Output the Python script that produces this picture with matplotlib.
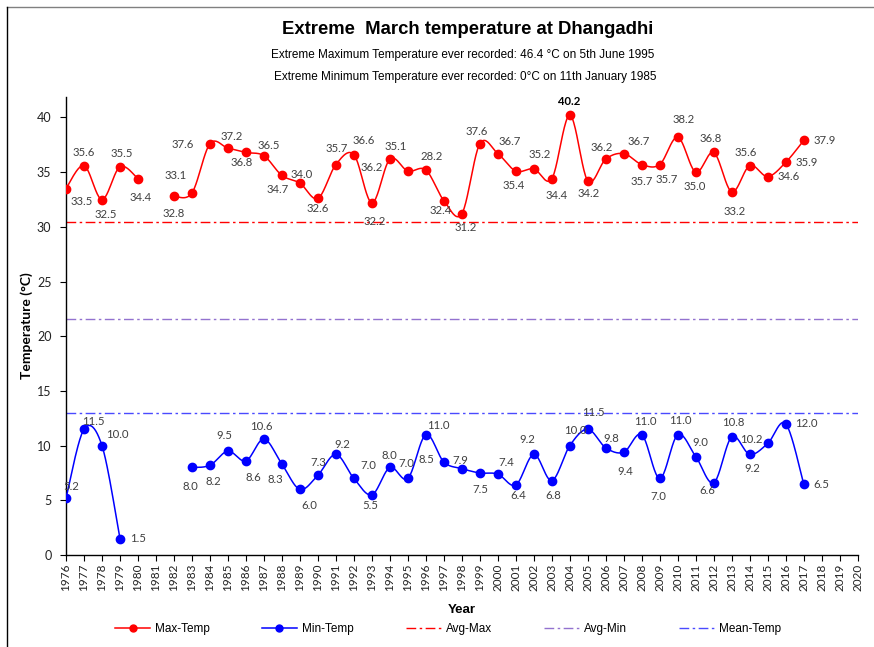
import numpy as np
import matplotlib
matplotlib.use("Agg")
import matplotlib.pyplot as plt
from matplotlib.lines import Line2D

nan = np.nan
years = list(range(1976, 2018))
max_temp = [33.5, 35.6, 32.5, 35.5, 34.4, nan, 32.8, 33.1, 37.6, 37.2, 36.8, 36.5,
            34.7, 34.0, 32.6, 35.7, 36.6, 32.2, 36.2, 35.1, 35.2, 32.4, 31.2, 37.6,
            36.7, 35.1, 35.3, 34.4, 40.2, 34.2, 36.2, 36.7, 35.7, 35.7, 38.2, 35.0,
            36.8, 33.2, 35.6, 34.6, 35.9, 37.9]
max_labels = ["33.5", "35.6", "32.5", "35.5", "34.4", "", "32.8", "33.1", "37.6", "37.2",
              "36.8", "36.5", "34.7", "34.0", "32.6", "35.7", "36.6", "32.2", "36.2", "35.1",
              "28.2", "32.4", "31.2", "37.6", "36.7", "35.4", "35.2", "34.4", "40.2", "34.2",
              "36.2", "36.7", "35.7", "35.7", "38.2", "35.0", "36.8", "33.2", "35.6", "34.6",
              "35.9", "37.9"]
min_temp = [5.2, 11.5, 10.0, 1.5, nan, nan, nan, 8.0, 8.2, 9.5, 8.6, 10.6, 8.3, 6.0,
            7.3, 9.2, 7.0, 5.5, 8.0, 7.0, 11.0, 8.5, 7.9, 7.5, 7.4, 6.4, 9.2, 6.8, 10.0,
            11.5, 9.8, 9.4, 11.0, 7.0, 11.0, 9.0, 6.6, 10.8, 9.2, 10.2, 12.0, 6.5]
min_labels = ["5.2", "11.5", "10.0", "1.5", "", "", "", "8.0", "8.2", "9.5", "8.6", "10.6",
              "8.3", "6.0", "7.3", "9.2", "7.0", "5.5", "8.0", "7.0", "11.0", "8.5", "7.9",
              "7.5", "7.4", "6.4", "9.2", "6.8", "10.0", "11.5", "9.8", "9.4", "11.0", "7.0",
              "11.0", "9.0", "6.6", "10.8", "9.2", "10.2", "12.0", "6.5"]
avg_max = 30.4
avg_min = 21.6
mean_temp = 13.0
tick_years = list(range(1976, 2021))

# label offsets in pixels (dx right, dy down) -- styling only
max_off = [(15.7, 12.7), (0, -13.3), (4, 15), (1.3, -13.6), (2.3, 18.3), None, (0, 17.3),
           (-16.7, -17.3), (-27, 0.7), (3.7, -11.3), (-4.3, 10), (4.7, -10), (-4, 14),
           (1.3, -8.7), (0, 10.3), (1, -15.7), (10, -13.7), (2.7, 18.3), (-17.7, 8.3),
           (-12.3, -24.7), (5.7, -13.3), (-2.7, 10), (4.3, 13.7), (-3, -12.7), (11.7, -11.7),
           (-1.7, 14.3), (6.3, -14.7), (5, 16.7), (-1, -14), (1, 12.7), (-4, -11.7),
           (15.3, -12.3), (0.3, 17), (6.7, 15.3), (6, -18), (-1, 14.3), (-2.7, -14.3),
           (3.3, 19.7), (-4, -12.7), (20.7, 0.3), (20.7, 0.3), (20.7, 0)]
min_off = [(5, -11.7), (9.3, -8), (15.3, -10.7), (17.7, 0), None, None, None, (-2, 19.3),
           (3.3, 16), (-4, -15.3), (7.3, 16.7), (-3, -12.7), (-6.7, 15.3), (9, 16),
           (0, -12.3), (6.7, -9.7), (14, -12.7), (-1.3, 11), (-1, -12.3), (-1.7, -15.3),
           (12.3, -9), (-17, -2.3), (-1.3, -8.3), (0.3, 16.7), (8.7, -11.3), (2.3, 11),
           (-6.7, -15), (1.3, 15.3), (5.3, -14.7), (6, -16.3), (5.3, -9.7), (1.3, 19.7),
           (3.7, -12.7), (-1.3, 17.7), (3, -13.7), (4.7, -14.3), (-6, 7.7), (2, -14.3),
           (2.7, 14), (-16.3, -3.7), (20.7, 0), (18, 1)]


def smooth(xs, ys, n=24):
    """Excel-like smoothed line (Catmull-Rom Bezier) over contiguous runs."""
    xs = np.asarray(xs, float)
    ys = np.asarray(ys, float)
    outx, outy = [], []
    valid = ~np.isnan(ys)
    i = 0
    N = len(xs)
    while i < N:
        if not valid[i]:
            i += 1
            continue
        j = i
        while j < N and valid[j]:
            j += 1
        P = np.column_stack([xs[i:j], ys[i:j]])
        m = len(P)
        for k in range(m - 1):
            p0 = P[k - 1] if k > 0 else P[k]
            p1, p2 = P[k], P[k + 1]
            p3 = P[k + 2] if k + 2 < m else P[k + 1]
            c1 = p1 + (p2 - p0) / 6.0
            c2 = p2 - (p3 - p1) / 6.0
            t = np.linspace(0, 1, n)[:, None]
            B = ((1 - t) ** 3) * p1 + 3 * ((1 - t) ** 2) * t * c1 + 3 * (1 - t) * t ** 2 * c2 + t ** 3 * p2
            outx.extend(B[:, 0]); outy.extend(B[:, 1])
        outx.append(np.nan); outy.append(np.nan)
        i = j
    return np.array(outx), np.array(outy)


W, H = 874, 647
fig = plt.figure(figsize=(W / 100, H / 100), dpi=100)
ax = fig.add_axes([66 / W, 1 - 555 / H, (857.7 - 66) / W, (555 - 96.7) / H])

RED = "#FF0000"
BLUE = "#0000FF"
PURPLE = "#9372CF"
MBLUE = "#4A4AFF"
dashdot = (0, (7, 2.5, 1.8, 2.5))

ax.axhline(avg_max, color=RED, lw=1.0, ls=dashdot, zorder=1)
ax.axhline(avg_min, color=PURPLE, lw=1.0, ls=dashdot, zorder=1)
ax.axhline(mean_temp, color=MBLUE, lw=1.0, ls=dashdot, zorder=1)

sx, sy = smooth(years, max_temp)
ax.plot(sx, sy, color=RED, lw=1.1, zorder=3)
ax.plot(years, max_temp, ls="none", marker="o", ms=6, color=RED, zorder=4)
sx, sy = smooth(years, min_temp)
ax.plot(sx, sy, color=BLUE, lw=1.1, zorder=3)
ax.plot(years, min_temp, ls="none", marker="o", ms=6, color=BLUE, zorder=4)

lblfont = "Lato"
for yr, v, t, off in zip(years, max_temp, max_labels, max_off):
    if off is None or np.isnan(v):
        continue
    bold = (t == "40.2")
    ax.annotate(t, (yr, v), xytext=(off[0], -off[1]), textcoords="offset pixels",
                ha="center", va="center", fontsize=8.2, family=lblfont,
                fontweight="bold" if bold else "normal",
                color="black" if bold else "#404040", zorder=5)
for yr, v, t, off in zip(years, min_temp, min_labels, min_off):
    if off is None or np.isnan(v):
        continue
    ax.annotate(t, (yr, v), xytext=(off[0], -off[1]), textcoords="offset pixels",
                ha="center", va="center", fontsize=8.2, family=lblfont,
                color="#404040", zorder=5)

ax.set_xlim(1976, 2020)
ax.set_ylim(0, 41.9)
ax.set_yticks(range(0, 45, 5))
ax.set_xticks(tick_years)
ax.set_xticklabels([str(y) for y in tick_years], rotation=90, family=lblfont,
                   fontsize=8.5, color="#222222")
for lab in ax.get_yticklabels():
    lab.set_family(lblfont); lab.set_fontsize(9.0); lab.set_color("#222222")
ax.tick_params(axis="y", length=4, width=0.8, pad=6.5)
ax.tick_params(axis="x", length=4, width=0.8, pad=2)
for s in ("top", "right"):
    ax.spines[s].set_visible(False)
for s in ("left", "bottom"):
    ax.spines[s].set_linewidth(1.0)
    ax.spines[s].set_color("black")

ax.set_ylabel("Temperature (°C)", family=lblfont, fontweight="bold", fontsize=10)
ax.yaxis.set_label_coords(-0.042, 0.5)
ax.set_xlabel("Year", family="Liberation Sans", fontweight="bold", fontsize=9.5)
ax.xaxis.set_label_coords(0.5, -0.108)

fig.text(468 / W, 1 - 30 / H, "Extreme  March temperature at Dhangadhi",
         ha="center", va="center", family="Liberation Sans", fontweight="bold",
         fontsize=13.3)
fig.text(463 / W, 1 - 55 / H, "Extreme Maximum Temperature ever recorded: 46.4 °C on 5th June 1995",
         ha="center", va="center", family="Liberation Sans", fontsize=8.5)
fig.text(465 / W, 1 - 77 / H, "Extreme Minimum Temperature ever recorded: 0°C on 11th January 1985",
         ha="center", va="center", family="Liberation Sans", fontsize=8.5)

handles = [
    Line2D([], [], color=RED, lw=1.1, marker="o", ms=5),
    Line2D([], [], color=BLUE, lw=1.1, marker="o", ms=5),
    Line2D([], [], color=RED, lw=1.0, ls=dashdot),
    Line2D([], [], color=PURPLE, lw=1.0, ls=dashdot),
    Line2D([], [], color=MBLUE, lw=1.0, ls=dashdot),
]
fig.legend(handles, ["Max-Temp", "Min-Temp", "Avg-Max", "Avg-Min", "Mean-Temp"],
           loc="center", bbox_to_anchor=(448 / W, 1 - 629 / H), ncol=5, frameon=False,
           prop={"family": "Liberation Sans", "size": 8.5}, handlelength=3.0,
           handletextpad=0.4, columnspacing=4.4)

# chart area border (top and left visible)
fig.add_artist(Line2D([7 / W, 1], [1 - 7 / H, 1 - 7 / H], transform=fig.transFigure,
                      color="#808080", lw=1.0))
fig.add_artist(Line2D([7 / W, 7 / W], [0, 1 - 7 / H], transform=fig.transFigure,
                      color="black", lw=1.0))

fig.savefig("out.png", dpi=100)
